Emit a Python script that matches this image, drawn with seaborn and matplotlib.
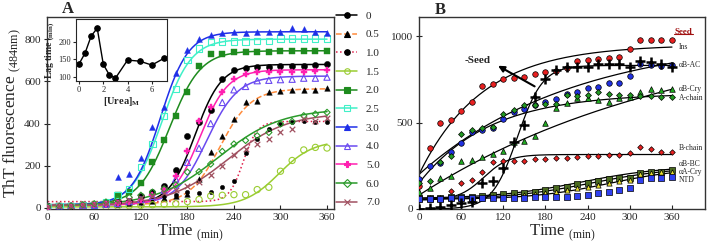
import numpy as np
import pandas as pd
import matplotlib
matplotlib.use("Agg")
import matplotlib.pyplot as plt
import seaborn as sns
from matplotlib.lines import Line2D

# ------------------------- data : panel A -------------------------
times_a = [0, 15, 30, 45, 60, 75, 90, 105, 120, 135, 150, 165, 180,
           195, 210, 225, 240, 255, 270, 285, 300, 315, 330, 345, 360]
urea_labels = ["0", "0.5", "1.0", "1.5", "2.0", "2.5", "3.0", "4.0", "5.0", "6.0", "7.0"]

tht_0 = [0, 8, 10, 12, 14, 22, 30, 35, 55, 77, 106, 181, 340, 405, 464, 611, 653, 663, 668, 668, 672, 674, 674, 676, 682]
tht_05 = [5, 8, 10, 12, 15, 18, 20, 25, 30, 35, 45, 55, 66, 137, 264, 342, 420, 500, 507, 550, 555, 558, 560, 560, 567]
tht_10 = [15, 12, 15, 15, 18, 20, 25, 30, 40, 45, 55, 60, 76, 72, 74, 98, 129, 259, 327, 374, 398, 406, 410, 409, 409]
tht_15 = [0, 2, 3, 5, 5, 5, 8, 10, 12, 15, 18, 20, 30, 40, 57, 60, 63, 63, 87, 98, 174, 225, 275, 287, 284]
tht_20 = [5, 8, 10, 12, 15, 25, 61, 75, 118, 219, 323, 434, 551, 674, 729, 732, 737, 737, 740, 740, 742, 742, 745, 745, 745]
tht_25 = [5, 8, 10, 12, 15, 30, 60, 90, 193, 303, 437, 563, 700, 756, 787, 789, 789, 789, 792, 792, 803, 803, 803, 803, 803]
tht_30 = [5, 10, 12, 15, 15, 25, 145, 161, 235, 382, 477, 639, 749, 800, 819, 828, 836, 831, 836, 836, 836, 855, 847, 836, 831]
tht_40 = [5, 8, 10, 12, 15, 18, 22, 30, 40, 55, 85, 137, 216, 283, 400, 500, 560, 576, 603, 605, 608, 610, 615, 615, 620]
tht_50 = [5, 8, 10, 12, 15, 18, 22, 30, 40, 60, 90, 153, 271, 413, 480, 548, 611, 634, 642, 642, 645, 645, 645, 650, 653]
tht_60 = [5, 8, 10, 15, 20, 28, 40, 50, 60, 75, 90, 110, 170, 172, 208, 268, 303, 320, 342, 358, 398, 410, 437, 445, 453]
tht_70 = [5, 8, 10, 15, 20, 25, 30, 38, 45, 55, 70, 85, 106, 125, 156, 200, 251, 280, 303, 327, 361, 374, 421, 410, 425]
tht_series = [tht_0, tht_05, tht_10, tht_15, tht_20, tht_25, tht_30, tht_40, tht_50, tht_60, tht_70]

# sigmoidal fit parameters
fit_lo = [15, 15, 30, 5, 15, 15, 15, 15, 15, 10, 10]
fit_hi = [680, 565, 410, 320, 745, 800, 835, 625, 655, 470, 450]
fit_t50 = [190, 222, 252, 298, 157, 147, 145, 205, 196, 220, 232]
fit_k = [17, 20, 9, 22, 20, 19, 18, 20, 18, 40, 38]

# inset : lag time vs urea
urea_conc = [0, 0.5, 1.0, 1.5, 2.0, 2.5, 3.0, 4.0, 5.0, 6.0, 7.0]
lag_time = [137, 168, 216, 238, 136, 106, 97, 148, 145, 134, 153]

# ------------------------- data : panel B -------------------------
times_b = times_a
ins = [135, 351, 495, 516, 568, 617, 713, 722, 751, 756, 761, 778, 790, 800, 817, 855, 861, 865, 875, 880, 923, 977, 977, 977, 977]
blue_circ = [175, 249, 268, 331, 380, 447, 455, 470, 518, 562, 576, 600, 617, 636, 663, 678, 701, 707, 730, 730, 769, 836, 830, 825, 830]
ab_ac = [0, 4, 13, 23, 33, 42, 148, 162, 239, 389, 486, 646, 750, 803, 822, 822, 822, 836, 836, 836, 822, 855, 850, 836, 822]
ab_cry = [100, 120, 177, 193, 279, 283, 299, 316, 337, 389, 393, 424, 495, 582, 611, 640, 640, 630, 620, 640, 650, 678, 694, 688, 694]
a_chain = [150, 162, 270, 306, 433, 457, 466, 472, 549, 570, 601, 601, 605, 605, 659, 653, 660, 678, 665, 659, 660, 653, 655, 650, 649]
b_chain = [58, 66, 66, 106, 148, 168, 216, 274, 279, 279, 280, 289, 289, 293, 293, 302, 308, 308, 312, 312, 325, 360, 345, 331, 331]
ab_bc = [66, 66, 66, 68, 70, 72, 75, 80, 85, 90, 95, 100, 110, 120, 129, 144, 148, 162, 172, 177, 177, 206, 216, 216, 225]
aa_cry = [60, 60, 62, 63, 64, 65, 66, 68, 70, 75, 80, 85, 90, 100, 110, 120, 130, 140, 150, 160, 170, 200, 210, 212, 215]
ntd = [55, 55, 56, 62, 62, 62, 63, 64, 64, 65, 66, 67, 68, 69, 71, 77, 81, 91, 100, 110, 123, 168, 177, 177, 183]

# fitted curves of panel B: ("exp", base, amplitude, tau) or ("sig", lo, hi, t50, k)
fit_b = {
    "ins": ("exp", 200, 750, 90),
    "blue": ("exp", 200, 800, 220),
    "abac": ("sig", 0, 830, 140, 18),
    "abcry": ("exp", 80, 1000, 380),
    "achain": ("exp", 150, 520, 100),
    "bchain": ("sig", 50, 315, 92, 18),
    "abbc": ("sig", 60, 250, 230, 60),
    "aacry": ("sig", 55, 245, 245, 60),
    "ntd": ("sig", 55, 240, 270, 55),
}
b_labels = ["Ins", "\u03b1B-AC", "\u03b1B-Cry", "A-chain", "B-chain", "\u03b1B-BC", "\u03b1A-Cry", "NTD"]
b_label_y = [935, 832, 692, 643, 351, 258, 214, 170]

# ------------------------- style -------------------------
sns.set_style("ticks")
plt.rcParams["font.family"] = ["Liberation Serif", "DejaVu Serif"]
plt.rcParams["mathtext.fontset"] = "custom"
plt.rcParams["mathtext.rm"] = "Liberation Serif"

colors_a = ["black", "#FF8C3C", "#E0204A", "#9ACD32", "#1E8B1E", "#40F0C8",
            "#1F2FE8", "#6A4AF0", "#FF20B0", "#2A9A2A", "#A05060"]
lstyles_a = ["-", "--", ":", "-", "-", "-", "-", "-", "-", "-", "-"]
markers_a = ["o", "^", "o", "o", "s", "s", "^", "^", "P", "D", "x"]
mcolors_a = ["black", "black", "black", "#9ACD32", "#1E8B1E", "#40F0C8",
             "#1F2FE8", "#6A4AF0", "#FF20B0", "#2A9A2A", "#A05060"]
mopen_a = [False, False, False, True, False, True, False, True, False, True, False]
msize_a = [20, 16, 10, 20, 16, 20, 18, 20, 16, 10, 16]

fig = plt.figure(figsize=(7.08, 2.52), dpi=100)
W, H = 708.0, 252.0
axA = fig.add_axes([47 / W, 43 / H, 287 / W, 192 / H])
axB = fig.add_axes([419 / W, 43 / H, 286 / W, 192 / H])
axI = fig.add_axes([76 / W, 171 / H, 91 / W, 62 / H])

tfine = np.linspace(0, 360, 300)

def sigmoid(t, lo, hi, t50, k):
    return lo + (hi - lo) / (1 + np.exp(-(t - t50) / k))

def exprise(t, base, amp, tau):
    return base + amp * (1 - np.exp(-t / tau))

handles = []
for i, lab in enumerate(urea_labels):
    col = colors_a[i]
    curve = sigmoid(tfine, fit_lo[i], fit_hi[i], fit_t50[i], fit_k[i])
    sns.lineplot(x=tfine, y=curve, ax=axA, color=col, linestyle=lstyles_a[i],
                 linewidth=1.1, estimator=None, sort=False, legend=False, zorder=2)
    mc = mcolors_a[i]
    if markers_a[i] in ("x", "+"):
        sns.scatterplot(x=times_a, y=tht_series[i], ax=axA, marker=markers_a[i],
                        s=msize_a[i], color=mc, linewidth=0.9, legend=False, zorder=3)
    elif mopen_a[i]:
        sns.scatterplot(x=times_a, y=tht_series[i], ax=axA, marker=markers_a[i],
                        s=msize_a[i], color=mc, facecolor="none", edgecolor=mc,
                        linewidth=0.8, legend=False, zorder=3)
    else:
        sns.scatterplot(x=times_a, y=tht_series[i], ax=axA, marker=markers_a[i],
                        s=msize_a[i], color=mc, edgecolor=mc, linewidth=0.3,
                        legend=False, zorder=3)
    handles.append(Line2D([0], [0], color=col, linestyle=lstyles_a[i], linewidth=1.1,
                          marker=markers_a[i], markersize=4,
                          markerfacecolor=("none" if mopen_a[i] else mc),
                          markeredgecolor=mc, markeredgewidth=0.8))

axA.set_xlim(-1, 369)
axA.set_ylim(-5, 905)
axA.set_xticks([0, 60, 120, 180, 240, 300, 360])
axA.set_yticks([0, 200, 400, 600, 800])
axA.tick_params(axis="x", direction="in", length=3, labelsize=8, pad=3)
axA.tick_params(axis="y", direction="inout", length=5, labelsize=8, pad=2)
axA.set_xlabel("Time $_{\\mathregular{(min)}}$", fontsize=12, labelpad=0)
axA.set_ylabel("ThT fluorescence $_{\\mathregular{(484nm)}}$", fontsize=12.5, labelpad=1)
for sp in axA.spines.values():
    sp.set_visible(True)
    sp.set_linewidth(1.0)
    sp.set_color("#333333")

axA.legend(handles, urea_labels, loc="upper left", bbox_to_anchor=(336 / W, 1 - 11 / H),
           bbox_transform=fig.transFigure, frameon=False, fontsize=8,
           handlelength=1.9, handletextpad=0.8, labelspacing=0.80,
           borderpad=0, borderaxespad=0)

# inset
sns.lineplot(x=urea_conc, y=lag_time, ax=axI, color="black", linewidth=1,
             marker="o", markersize=4, markeredgecolor="black", estimator=None, sort=False)
axI.set_xlim(-0.25, 7.25)
axI.set_ylim(89, 264)
axI.set_xticks([0, 2, 4, 6])
axI.set_yticks([100, 150, 200])
axI.tick_params(labelsize=6, length=2, pad=1.5)
axI.set_xlabel("[Urea]$_{\\mathregular{M}}$", fontsize=7.5, fontweight="bold", labelpad=1)
axI.set_ylabel("Lag time $_{\\mathregular{(min)}}$", fontsize=7, fontweight="bold", labelpad=1)
for sp in axI.spines.values():
    sp.set_visible(True)
    sp.set_linewidth(0.8)

# ------------------------- panel B -------------------------
series_b = [
    ("ins", ins, "o", "#E82020", 16),
    ("blue", blue_circ, "o", "#2030E0", 16),
    ("abcry", ab_cry, "^", "#22AA22", 16),
    ("achain", a_chain, "D", "#229922", 9),
    ("bchain", b_chain, "D", "#E82020", 8),
    ("abbc", ab_bc, "s", "#4A6A20", 14),
    ("aacry", aa_cry, "^", "#E8E030", 14),
    ("ntd", ntd, "s", "#3040F0", 14),
]
for key, vals, m, c, s in series_b:
    sns.scatterplot(x=times_b, y=vals, ax=axB, marker=m, s=s, color=c,
                    edgecolor="black", linewidth=0.5, legend=False, zorder=3)
sns.scatterplot(x=times_b, y=ab_ac, ax=axB, marker="+", s=55, color="black",
                linewidth=1.8, legend=False, zorder=4)

for key, p in fit_b.items():
    if p[0] == "exp":
        yv = exprise(tfine, *p[1:])
    else:
        yv = sigmoid(tfine, *p[1:])
    sns.lineplot(x=tfine, y=yv, ax=axB, color="black", linewidth=0.9,
                 estimator=None, sort=False, legend=False, zorder=2)

for lab, yv in zip(b_labels, b_label_y):
    axB.text(370, yv, lab, fontsize=5.5, va="center", ha="left")
axB.text(364, 1025, "Seed", fontsize=6.5, va="center", ha="left", color="#A01010",
         fontweight="bold")
axB.plot([0.892, 0.958], [0.913, 0.913], transform=axB.transAxes, color="#A01010",
         linewidth=0.8, clip_on=False)
axB.text(84, 857, "-Seed", fontsize=8, fontweight="bold", va="center", ha="center")
axB.annotate("", xy=(109, 836), xytext=(168, 701),
             arrowprops=dict(arrowstyle="-|>", color="black", lw=1.5, mutation_scale=9))

axB.set_xlim(0, 407)
axB.set_ylim(0, 1110)
axB.set_xticks([0, 60, 120, 180, 240, 300, 360])
axB.set_yticks([0, 500, 1000])
axB.tick_params(axis="x", direction="in", length=3, labelsize=8, pad=3)
axB.tick_params(axis="y", direction="inout", length=5, labelsize=8, pad=2)
axB.set_xlabel("Time $_{\\mathregular{(min)}}$", fontsize=12, labelpad=0)
for sp in axB.spines.values():
    sp.set_visible(True)
    sp.set_linewidth(1.0)
    sp.set_color("#333333")

fig.text(68 / W, 1 - 9 / H, "A", fontsize=12, fontweight="bold", ha="center", va="center")
fig.text(440 / W, 1 - 10 / H, "B", fontsize=12, fontweight="bold", ha="center", va="center")

fig.savefig("out.png", dpi=100)
